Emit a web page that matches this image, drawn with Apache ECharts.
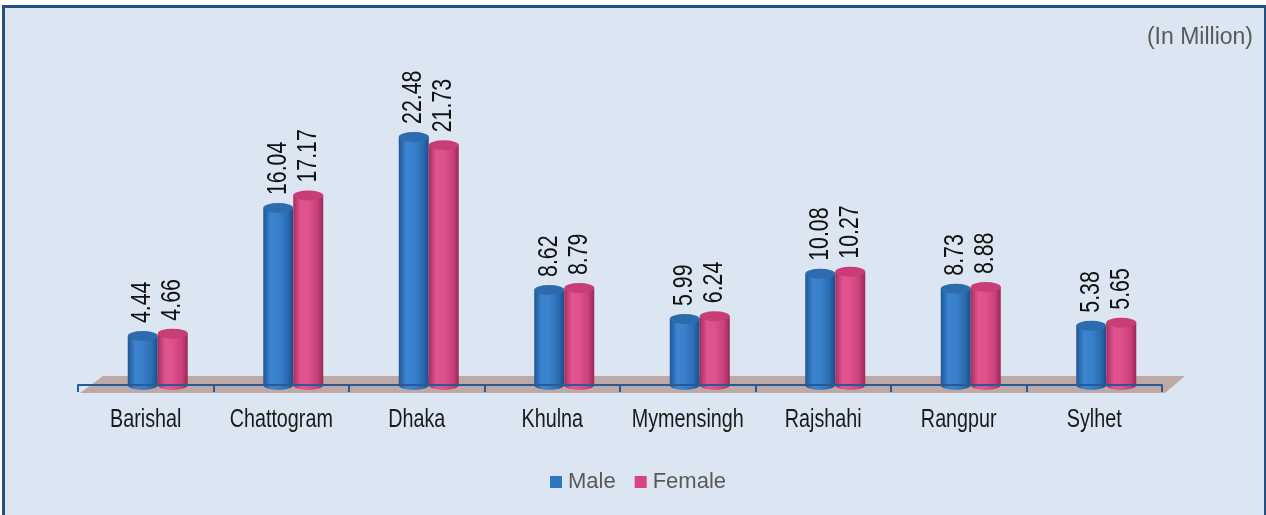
<!DOCTYPE html>
<html>
<head>
<meta charset="utf-8">
<script src="https://cdn.jsdelivr.net/npm/echarts@6/dist/echarts.min.js"></script>
<style>
html,body{margin:0;padding:0;background:#ffffff;width:1266px;height:515px;overflow:hidden;}
#bg{position:absolute;left:2px;top:5px;width:1259px;height:520px;background:#dce6f2;border-left:3px solid #244f7e;border-top:3px solid #244f7e;border-right:2px solid #244f7e;}
#chart{position:absolute;left:0;top:0;width:1266px;height:515px;}
</style>
</head>
<body>
<div id="bg"></div>
<div id="chart"></div>
<script>
const categories = ['Barishal','Chattogram','Dhaka','Khulna','Mymensingh','Rajshahi','Rangpur','Sylhet'];
const male = [4.44,16.04,22.48,8.62,5.99,10.08,8.73,5.38];
const female = [4.66,17.17,21.73,8.79,6.24,10.27,8.88,5.65];
const unitLabel = '(In Million)';

const FONT = '"Liberation Sans", Arial, sans-serif';
const NARROW = 0.79;

function grad(stops){
  return {type:'linear', x:0, y:0, x2:1, y2:0, colorStops: stops.map(s=>({offset:s[0], color:s[1]}))};
}
const maleBody = grad([[0,'#1f5796'],[0.25,'#3b84cf'],[0.5,'#3a80ca'],[0.8,'#2b6db3'],[1,'#1c4d86']]);
const femaleBody = grad([[0,'#a82d61'],[0.25,'#e0558f'],[0.5,'#df528c'],[0.8,'#c9407a'],[1,'#9a2857']]);

function cylinder(offset, body, topColor){
  return function(params, api){
    const i = api.value(0), v = api.value(1);
    const top = api.coord([i, v]);
    const base = api.coord([i, 0]);
    const rx = 15, ry = 5;
    const cx = top[0] + offset;
    return {type:'group', children:[
      {type:'circle', shape:{cx:0, cy:0, r:rx}, x:cx, y:base[1], scaleY:ry/rx, style:{fill:body}},
      {type:'rect', shape:{x:cx-rx, y:top[1], width:rx*2, height:base[1]-top[1]}, style:{fill:body}},
      {type:'circle', shape:{cx:0, cy:0, r:rx}, x:cx, y:top[1], scaleY:ry/rx, style:{fill:topColor}},
      {type:'text', x:cx, y:top[1]-13, rotation:Math.PI/2, scaleX:NARROW,
        style:{text:v.toFixed(2), fill:'#111111', font:'27px ' + FONT, align:'left', verticalAlign:'middle'}}
    ]};
  };
}

const chart = echarts.init(document.getElementById('chart'), null, {renderer:'canvas'});
chart.setOption({
  backgroundColor:'transparent',
  animation:false,
  title:{text:unitLabel, right:8, top:21, textStyle:{fontFamily:FONT, fontSize:23, fontWeight:'normal', color:'#595959'}},
  legend:{
    data:['Male','Female'], bottom:17, left:545, icon:'rect', itemWidth:12, itemHeight:12, itemGap:19,
    textStyle:{fontFamily:FONT, fontSize:22, color:'#595959', padding:[0,0,0,1]}
  },
  grid:{left:78, right:104, top:54, bottom:120},
  xAxis:{
    type:'category', data:categories, boundaryGap:true, z:10,
    axisLine:{lineStyle:{color:'#2a5a96', width:2}},
    axisTick:{show:true, length:7, lineStyle:{color:'#2a5a96', width:2}},
    axisLabel:{show:false}
  },
  yAxis:{type:'value', min:-0.9, max:30, show:false, splitLine:{show:false}},
  series:[
    {type:'custom', name:'floor', silent:true, z:1, data:[[0,0]],
      renderItem:function(params, api){
        const cs = params.coordSys;
        const b = cs.y + cs.height;
        return {type:'polygon', shape:{points:[[cs.x+2,b-2],[cs.x+25,b-19],[cs.x+cs.width+23,b-19],[cs.x+cs.width+3,b-2]]},
          style:{fill:'#bfa9a6'}};
      }},
    {type:'custom', name:'axisLabels', silent:true, z:1, encode:{x:0,y:1},
      data:categories.map((c,i)=>[i,0]),
      renderItem:function(params, api){
        const cs = params.coordSys;
        const i = api.value(0);
        const p = api.coord([i, 0]);
        return {type:'text', x:p[0], y:cs.y+cs.height+13, scaleX:NARROW,
          style:{text:categories[i], fill:'#1a1a1a', font:'25px ' + FONT, align:'center', verticalAlign:'top'}};
      }},
    {type:'custom', name:'Male', z:3, itemStyle:{color:'#2e75c0'}, encode:{x:0,y:1},
      data:male.map((v,i)=>[i,v]), renderItem:cylinder(-3, maleBody, '#2c6cae')},
    {type:'custom', name:'Female', z:3, itemStyle:{color:'#d9437f'}, encode:{x:0,y:1},
      data:female.map((v,i)=>[i,v]), renderItem:cylinder(27, femaleBody, '#c83d76')}
  ]
});
</script>
</body>
</html>
